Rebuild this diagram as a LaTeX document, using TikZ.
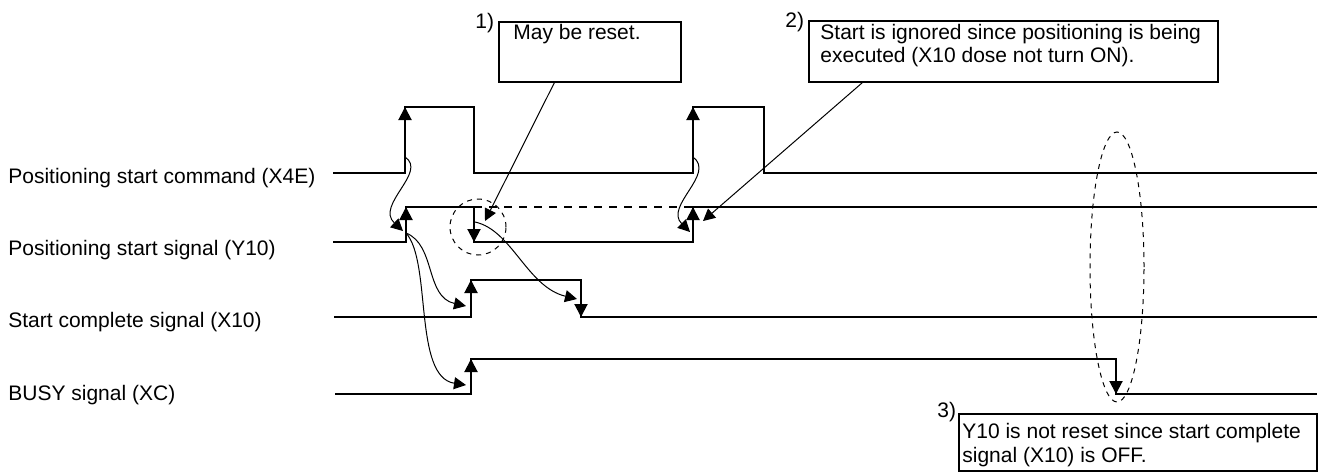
\documentclass[tikz,border=0pt]{standalone}
\usepackage{fontspec}
\setmainfont{Liberation Sans}
\usetikzlibrary{arrows.meta,fit}

\begin{document}
\begin{tikzpicture}[x=0.5pt,y=-0.5pt,
    wave/.style={line width=1pt,line join=miter},
    edgetip/.style={-{Triangle[length=6.5pt,width=6.5pt]},line width=1pt},
    link/.style={-{Triangle[length=6pt,width=6pt]},line width=0.5pt},
    txt/.style={anchor=base west,inner sep=0pt,font=\fontsize{10.5}{12}\selectfont},
    notebox/.style={draw,line width=0.6pt,inner sep=0pt},
    ringmark/.style={draw,line width=0.5pt,dash pattern=on 2.5pt off 2.5pt}]
  \useasboundingbox (0,0) rectangle (1329,472);

  % signal names
  \node[txt] (cmdlabel)   at (8,183) {Positioning start command (X4E)};
  \node[txt] (startlabel) at (8,255) {Positioning start signal (Y10)};
  \node[txt] (donelabel)  at (8,327) {Start complete signal (X10)};
  \node[txt] (busylabel)  at (8,400) {BUSY signal (XC)};

  % waveforms
  \draw[wave] (333,173) -- (405,173) -- (405,107) -- (474,107) -- (474,173)
    -- (693,173) -- (693,107) -- (764,107) -- (764,173) -- (1317,173);
  \draw[wave] (333,242) -- (406,242) -- (406,207) -- (474,207) -- (474,242)
    -- (693,242) -- (693,207) -- (1317,207);
  \draw[wave,dash pattern=on 4pt off 3.5pt] (474,207) -- (693,207);
  \draw[wave] (334,317) -- (471,317) -- (471,280) -- (581,280) -- (581,317) -- (1317,317);
  \draw[wave] (335,394) -- (471,394) -- (471,359) -- (1116,359) -- (1116,394) -- (1317,394);

  % edges
  \coordinate (cmdup1)   at (405,107);
  \coordinate (cmdup2)   at (693,107);
  \coordinate (startup1) at (406,207);
  \coordinate (startup2) at (693,207);
  \coordinate (doneup)   at (471,280);
  \coordinate (busyup)   at (471,359);
  \coordinate (startdn)  at (474,242);
  \coordinate (donedn)   at (581,317);
  \coordinate (busydn)   at (1116,394);
  \foreach \c in {cmdup1,cmdup2,startup1,startup2,doneup,busyup}
    \draw[edgetip] ([yshift=-9pt]\c) -- (\c);
  \foreach \c in {startdn,donedn,busydn}
    \draw[edgetip] ([yshift=9pt]\c) -- (\c);

  % cause and effect
  \coordinate (cmdA)   at (405,157);
  \coordinate (cmdB)   at (693,157);
  \coordinate (startA) at (403,231);
  \coordinate (startB) at (690,232);
  \coordinate (fromup) at (406,233);
  \coordinate (fromdn) at (475,222);
  \coordinate (doneA)  at (466,306);
  \coordinate (doneB)  at (577,299);
  \coordinate (busyA)  at (466,385);
  \draw[link] (cmdA) .. controls (428,172) and (375,205) .. (startA);
  \draw[link] (cmdB) .. controls (716,174) and (664,206) .. (startB);
  \draw[link] (fromup) .. controls (436,245) and (425,297) .. (doneA);
  \draw[link] (fromup) .. controls (432,262) and (413,377) .. (busyA);
  \draw[link] (fromdn) .. controls (512,230) and (527,287) .. (doneB);

  % marks
  \draw[ringmark] (478,227) circle [radius=14pt];
  \draw[ringmark] (1117,267) ellipse [x radius=13.5pt, y radius=67.5pt];

  % notes
  \node[notebox,fit={(499,22) (681,82)}] (note1) {};
  \node[notebox,fit={(809,21) (1218,82)}] (note2) {};
  \node[notebox,fit={(959,414) (1317,471)}] (note3) {};
  \node[txt] (num1) at (475,28) {1)};
  \node[txt] (num2) at (785,27) {2)};
  \node[txt] (num3) at (937,417) {3)};
  \node[txt] (text1)  at (513,39) {May be reset.};
  \node[txt] (text2a) at (820,39) {Start is ignored since positioning is being};
  \node[txt] (text2b) at (820,62) {executed (X10 dose not turn ON).};
  \node[txt] (text3a) at (962,438) {Y10 is not reset since start complete};
  \node[txt] (text3b) at (962,462) {signal (X10) is OFF.};

  \coordinate (resetmark)  at (485,221);
  \coordinate (ignoremark) at (703,221);
  \draw[link] ([xshift=28pt]note1.south west) -- (resetmark);
  \draw[link] ([xshift=27pt]note2.south west) -- (ignoremark);
\end{tikzpicture}
\end{document}
